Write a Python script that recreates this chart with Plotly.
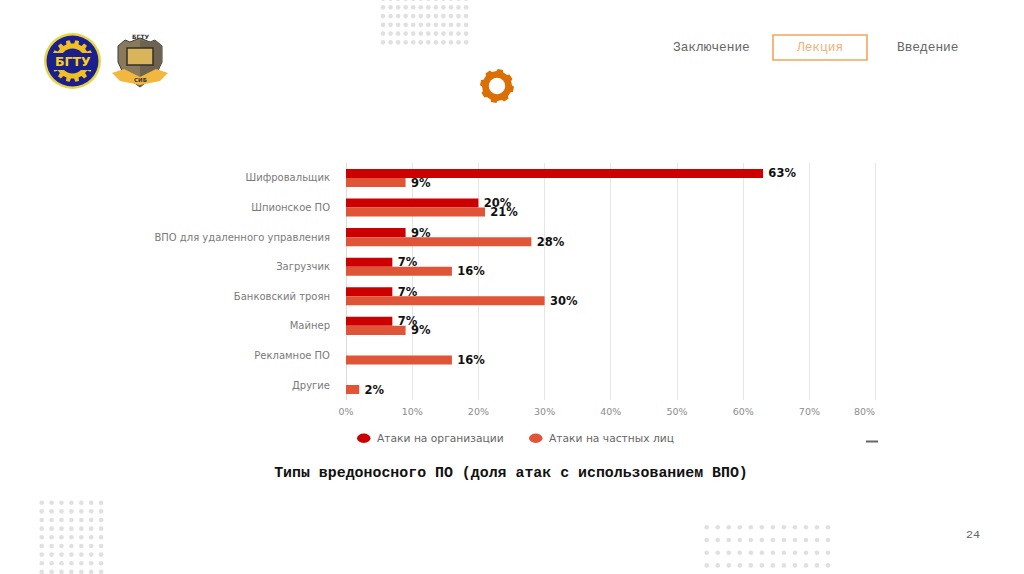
import numpy as np
import plotly.graph_objects as go

W, H = 1024, 574

categories = ["Шифровальщик", "Шпионское ПО", "ВПО для удаленного управления", "Загрузчик",
              "Банковский троян", "Майнер", "Рекламное ПО", "Другие"]
org_values = [63, 20, 9, 7, 7, 7, None, None]
private_values = [9, 21, 28, 16, 30, 9, 16, 2]
org_name = "Атаки на организации"
private_name = "Атаки на частных лиц"
x_ticks = [0, 10, 20, 30, 40, 50, 60, 70, 80]
x_tick_labels = ["0%", "10%", "20%", "30%", "40%", "50%", "60%", "70%", ""]
last_tick_label = "80%"
title_text = "Типы вредоносного ПО (доля атак с использованием ВПО)"

RED = "#cc0000"
CORAL = "#e05537"
SANS = "DejaVu Sans"
MONO = "Liberation Mono"

fig = go.Figure()


def label(vals):
    return [None if v is None else f"\u2009{v}%" for v in vals]


for name, vals, col in [(org_name, org_values, RED), (private_name, private_values, CORAL)]:
    fig.add_bar(y=categories, x=vals, name=name, orientation="h", marker=dict(color=col, line_width=0),
                text=label(vals), textposition="outside", cliponaxis=False, showlegend=False,
                constraintext="none",
                textfont=dict(family=SANS, size=11.5, color="#111", weight="bold"))


# decorative dot grids on a page-sized overlay
def dots(x0, dx, nx, y0, dy, ny):
    xs, ys = np.meshgrid(x0 + dx * np.arange(nx), y0 + dy * np.arange(ny))
    fig.add_scatter(x=xs.ravel(), y=ys.ravel(), xaxis="x2", yaxis="y2", mode="markers", showlegend=False,
                    hoverinfo="skip", marker=dict(color="#e0e0e0", size=4.6, line_width=0), cliponaxis=True)


dots(383, 7.55, 12, -1.4, 8.75, 6)
dots(41.7, 9.9, 7, 502.7, 8.65, 9)
dots(706.7, 11.03, 12, 527.3, 12.7, 4)

shapes = []


def px(kind, x0, y0, x1, y1, fill="rgba(0,0,0,0)", line="rgba(0,0,0,0)", lw=0):
    shapes.append(dict(type=kind, xref="x2", yref="y2", x0=x0, y0=y0, x1=x1, y1=y1,
                       fillcolor=fill, line=dict(color=line, width=lw)))


def poly(points, fill, line="rgba(0,0,0,0)", lw=0):
    d = "M " + " L ".join(f"{x:.1f},{y:.1f}" for x, y in points) + " Z"
    shapes.append(dict(type="path", xref="x2", yref="y2", path=d, fillcolor=fill,
                       line=dict(color=line, width=lw)))


def gear(cx, cy, r_out, r_in, teeth, fill, phase=0.0):
    pts = []
    step = 2 * np.pi / teeth
    for i in range(teeth):
        a = phase + i * step
        for off, r in [(-0.30, r_in), (-0.20, r_out), (0.20, r_out), (0.30, r_in)]:
            pts.append((cx + r * np.cos(a + off * step), cy + r * np.sin(a + off * step)))
    poly(pts, fill)


# orange gear
gear(497, 86, 17, 15, 8, "#d96f05", 0.2)
px("circle", 488.8, 77.8, 505.2, 94.2, fill="#ffffff")

# round logo
px("circle", 44, 33, 101, 89, fill="#e8d44a")
px("circle", 46.5, 35.5, 98.5, 86.5, fill="#1a1f8c")
gear(72.5, 61, 21, 17.5, 14, "#f0c020")
px("circle", 60, 48.5, 85, 73.5, fill="#1a1f8c")
px("rect", 50, 53, 95, 70, fill="#1a1f8c")

# shield logo
poly([(118, 46), (125, 40), (130, 42), (140, 38), (150, 42), (155, 40), (162, 46), (162, 62),
      (156, 75), (140, 87), (124, 75), (118, 62)], "#8a7a5c", "#3c3c3c", 1)
poly([(140, 40), (150, 42), (155, 40), (162, 46), (162, 62), (156, 75), (140, 87)], "#6e6250")
px("rect", 127, 48, 153, 65, fill="#d9b45a", line="#33302a", lw=1.5)
poly([(112, 73), (124, 69), (140, 77), (156, 69), (168, 73), (160, 81), (140, 85), (120, 81)], "#f2b73f")

# menu box and small dash
px("rect", 773, 35, 867, 60, line="#f2a55c", lw=1.6)
px("line", 866, 441.5, 878, 441.5, line="#666666", lw=2)

# legend: oval swatches with the series names beside them
px("circle", 357, 433.5, 370.5, 443, fill=RED)
px("circle", 529, 433.5, 542.5, 443, fill=CORAL)
fig.update_layout(shapes=shapes)


def txt(x, y, s, size, color, family=MONO, weight="normal", anchor="center"):
    fig.add_annotation(xref="x2", yref="y2", x=x, y=y, text=s, showarrow=False, xanchor=anchor, yanchor="middle",
                       xshift=0, borderpad=0, borderwidth=0,
                       font=dict(family=family, size=size, color=color, weight=weight))


txt(711.5, 47, "Заключение", 12.8, "#666666")
txt(819, 47, "Лекция", 12.8, "#f0b27a")
txt(927, 47, "Введение", 12.8, "#666666")
txt(973, 535, "24", 11.7, "#666666")
txt(72.5, 61, "БГТУ", 12.5, "#f5d020", SANS, "bold")
txt(140, 36, "БГТУ", 6, "#333333", SANS, "bold")
txt(140, 80, "СИБ", 5.5, "#333333", SANS, "bold")
txt(376.5, 438.5, org_name, 10.7, "#666666", SANS, "normal", "left")
txt(548.5, 438.5, private_name, 10.7, "#666666", SANS, "normal", "left")

# the last tick label stops at the end of the plot instead of being centred on its tick
fig.add_annotation(xref="x", yref="y2", x=x_ticks[-1], y=411.5, text=last_tick_label, showarrow=False, xanchor="right",
                   yanchor="middle", xshift=1, font=dict(family=SANS, size=9.5, color="#8c8c8c"))

fig.update_layout(
    width=W, height=H, autosize=False, margin=dict(l=0, r=0, t=0, b=0, autoexpand=False),
    paper_bgcolor="#ffffff", plot_bgcolor="rgba(0,0,0,0)",
    barmode="group", bargap=0.39, bargroupgap=0,
    showlegend=False,
    title=dict(text=title_text, x=511 / W, xanchor="center", xref="paper", y=1 - 472 / H, yanchor="middle",
               yref="paper", font=dict(family=MONO, size=14.9, color="#111111", weight="bold")),
    xaxis=dict(domain=[346 / W, 877.6 / W], range=[0, 80.3], tickvals=x_ticks, ticktext=x_tick_labels,
               showgrid=True, gridcolor="#e6e6e6", gridwidth=1.2, zeroline=True, zerolinecolor="#dcdcdc",
               zerolinewidth=1.2, showline=False, ticks="", ticklabelstandoff=5,
               tickfont=dict(family=SANS, size=9.5, color="#8c8c8c"), anchor="y"),
    yaxis=dict(domain=[1 - 399.8 / H, 1 - 163.2 / H], autorange="reversed", showgrid=False, showline=False,
               ticks="", ticklabelstandoff=15, automargin=False, anchor="x",
               tickfont=dict(family=SANS, size=10, color="#7a7a7a")),
    xaxis2=dict(domain=[0, 1], range=[0, W], visible=False, anchor="y2", fixedrange=True),
    yaxis2=dict(domain=[0, 1], range=[H, 0], visible=False, anchor="x2", fixedrange=True),
)

fig.write_html("out.html", config={"displayModeBar": False},
               post_script="document.body.style.margin='0';document.body.style.overflow='hidden';")
